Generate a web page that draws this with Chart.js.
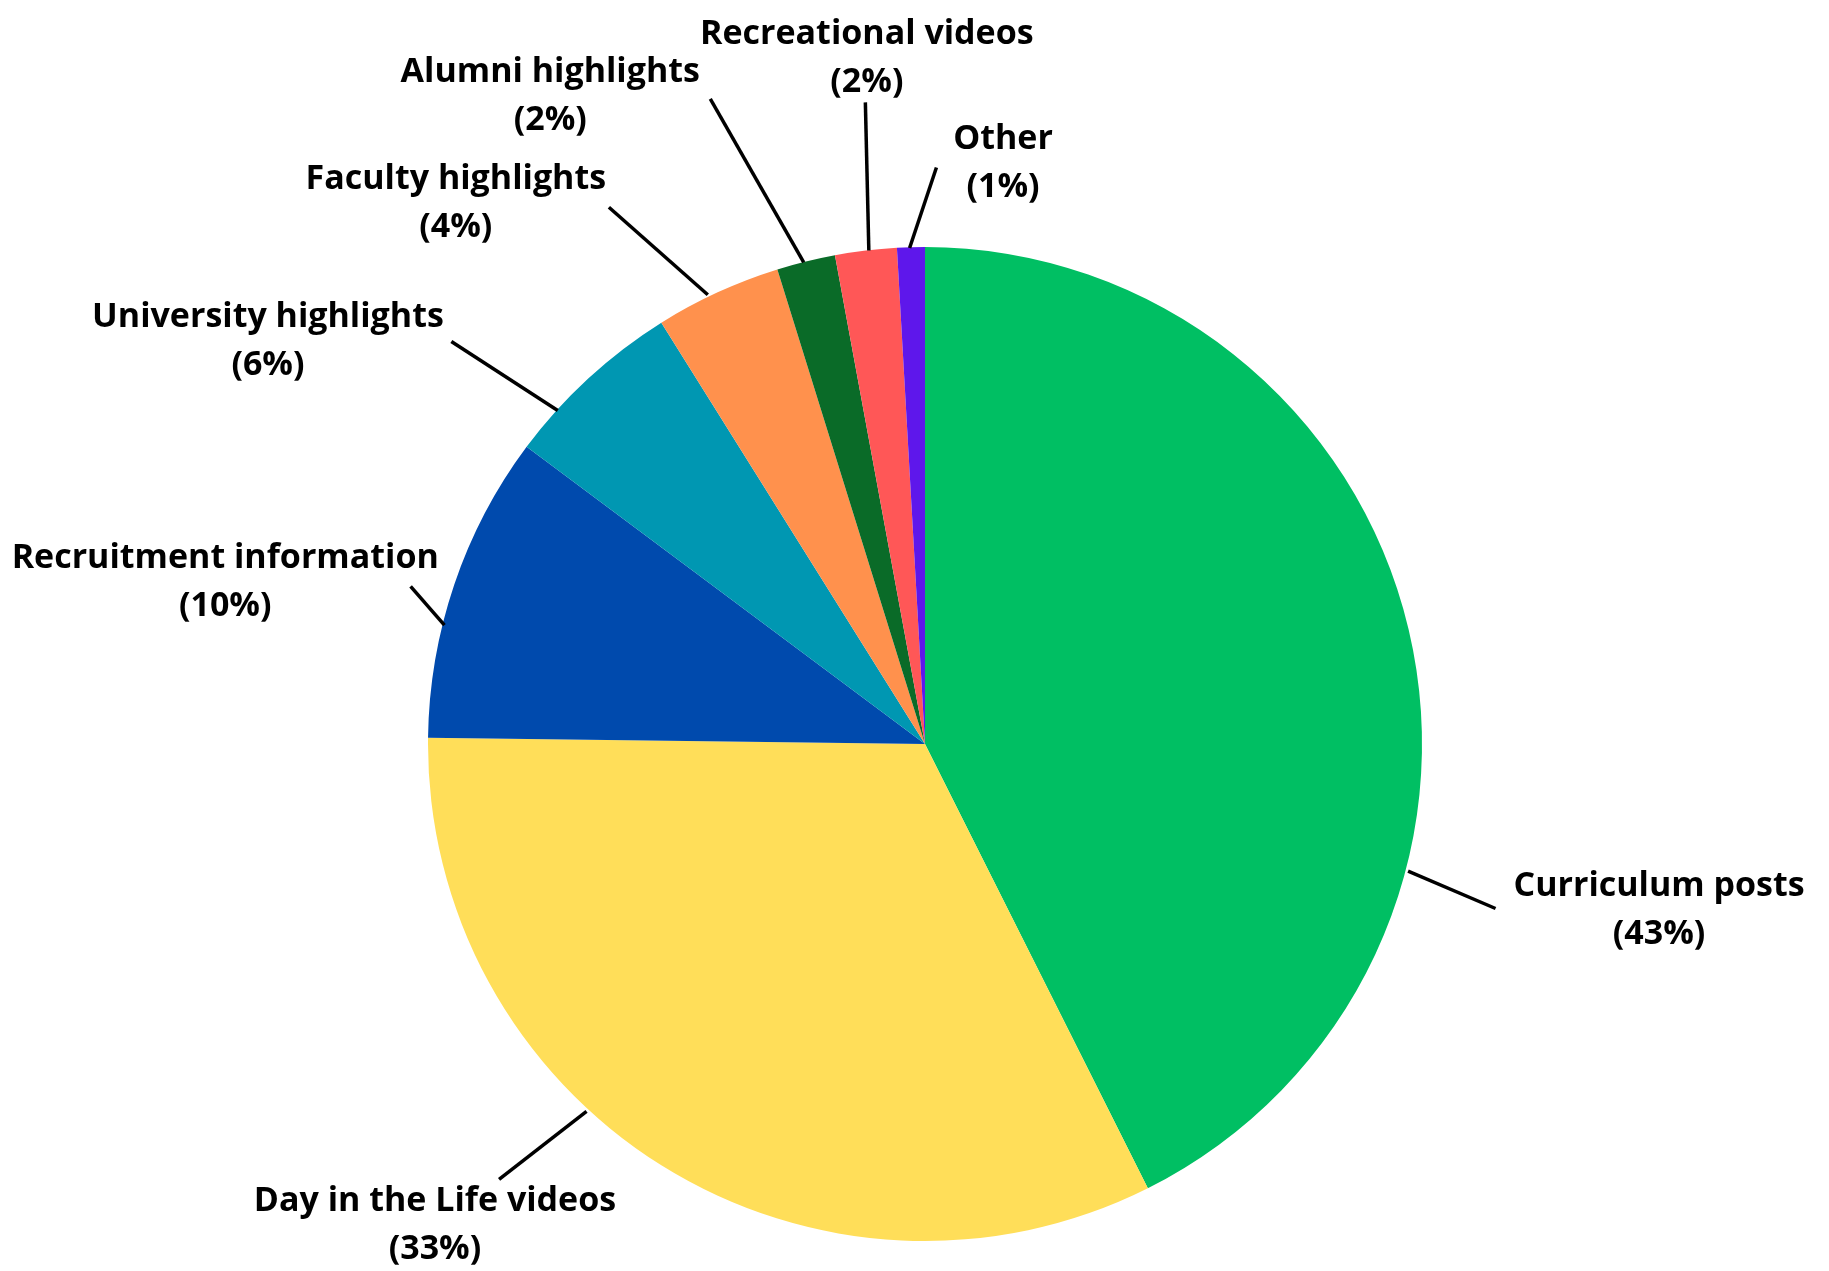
<!DOCTYPE html>
<html>
<head>
<meta charset="utf-8">
<script src="https://cdn.jsdelivr.net/npm/chart.js@4.4.1/dist/chart.umd.min.js"></script>
<style>
    html, body { margin: 0; padding: 0; background: #ffffff; }
    #wrap { width: 1829px; height: 1271px; position: relative; }
</style>
</head>
<body>
<div id="wrap"><canvas id="contentChart"></canvas></div>
<script>
const categories = [
    'Curriculum posts',
    'Day in the Life videos',
    'Recruitment information',
    'University highlights',
    'Faculty highlights',
    'Alumni highlights',
    'Recreational videos',
    'Other'
];
const shares = [42.6, 32.6, 10.0, 5.9, 4.1, 1.9, 2.0, 0.9];
const sliceColors = ['#00BF63', '#FFDE59', '#004AAD', '#0097B2', '#FF914D', '#0A6B28', '#FF5757', '#5E17EB'];

// leader line + label placement, in units of the pie radius from its centre
// [lineStartX, lineStartY, lineEndX, lineEndY, textX, textY]
const labelLayout = [
    [0.972, 0.256, 1.148, 0.331, 1.477, 0.335],
    [-0.681, 0.739, -0.857, 0.876, -0.986, 0.969],
    [-0.967, -0.239, -1.035, -0.317, -1.408, -0.325],
    [-0.739, -0.671, -0.953, -0.810, -1.322, -0.811],
    [-0.437, -0.904, -0.636, -1.080, -0.944, -1.088],
    [-0.244, -0.969, -0.432, -1.298, -0.754, -1.303],
    [-0.113, -0.993, -0.120, -1.291, -0.117, -1.380],
    [-0.031, -0.998, 0.023, -1.160, 0.157, -1.168]
];

const calloutPlugin = {
    id: 'callouts',
    afterDatasetsDraw(chart) {
        const arc = chart.getDatasetMeta(0).data[0];
        if (!arc) return;
        const cx = arc.x, cy = arc.y, r = arc.outerRadius;
        const ctx = chart.ctx;
        ctx.save();
        ctx.strokeStyle = '#000000';
        ctx.lineWidth = 3.5;
        ctx.fillStyle = '#000000';
        ctx.font = 'bold 34px "Open Sans", sans-serif';
        ctx.textAlign = 'center';
        ctx.textBaseline = 'middle';
        const lineGap = 48;
        categories.forEach((name, i) => {
            const p = labelLayout[i];
            ctx.beginPath();
            ctx.moveTo(cx + p[0] * r, cy + p[1] * r);
            ctx.lineTo(cx + p[2] * r, cy + p[3] * r);
            ctx.stroke();
            const tx = cx + p[4] * r, ty = cy + p[5] * r;
            ctx.fillText(name, tx, ty - lineGap / 2);
            ctx.fillText('(' + Math.round(shares[i]) + '%)', tx, ty + lineGap / 2);
        });
        ctx.restore();
    }
};

const ctx = document.getElementById('contentChart').getContext('2d');
new Chart(ctx, {
    type: 'pie',
    data: {
        labels: categories,
        datasets: [{
            data: shares,
            backgroundColor: sliceColors,
            borderWidth: 0
        }]
    },
    options: {
        responsive: true,
        maintainAspectRatio: false,
        animation: false,
        layout: {
            padding: { top: 247, bottom: 30, left: 428, right: 407 }
        },
        plugins: {
            legend: { display: false },
            tooltip: { enabled: false }
        }
    },
    plugins: [calloutPlugin]
});
</script>
</body>
</html>
